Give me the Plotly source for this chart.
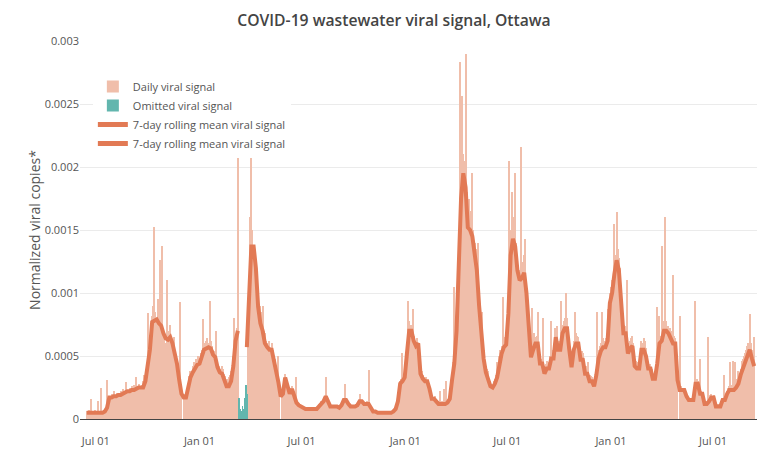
import pandas as pd
import plotly.graph_objects as go

# Units: 1e-5 normalized viral copies
UNIT = 1e-5

# Daily viral signal sampled every 2 days starting 2020-06-15 (None = omitted / missing)
daily_signal = [
    6, 5, 7, 6, 16, 6, 5, 7, 6, 5,
    14, 6, 5, 25, 6, 7, 0, 8, 31, 10,
    0, 18, 20, 17, 22, 19, 0, 21, 18, 20,
    22, 20, 24, 0, 21, 29, 23, 22, 25, 21,
    26, 24, 27, 23, 33, 25, 28, 24, 26, 27,
    30, 35, 28, 33, 84, 45, 60, 68, 82, 90,
    152, 85, 80, 95, 75, 126, 90, 137, 72, 65,
    60, 110, 70, 68, 75, 62, 58, 65, 55, 50,
    45, 40, 30, 93, 22, 0, 18, 20, 17, 24,
    28, 34, 38, 36, 42, 45, 40, 48, 46, 50,
    48, 52, 55, 79, 60, 58, 62, 64, 60, 94,
    62, 58, 55, 52, 54, 70, 45, 42, 0, 40,
    42, 40, 36, 34, 32, 30, 33, 35, 38, 40,
    50, 80, 65, 72, 210,
    None, None, None, None, None, None, None, None,
    60, 95, 160, 210, 150, 135, 130,
    125, 110, 100, 88, 90, 85, 90, 70, 68, 62,
    60, 58, 62, 57, 60, 55, 50, 48, 42, 36,
    50, 25, 0, 18, 22, 28, 36, 32, 27, 23,
    22, 25, 26, 24, 20, 16, 33, 13, 12, 11,
    11, 10, 9, 9, 8, 9, 8, 9, 8, 9,
    9, 8, 9, 8, 9, 10, 12, 13, 14, 13,
    15, 18, 33, 18, 14, 12, 11, 10, 11, 10,
    11, 10, 11, 10, 9, 10, 12, 14, 16, 28,
    16, 15, 13, 11, 10, 11, 10, 11, 10, 12,
    12, 13, 20, 15, 14, 14, 13, 12, 13, 14,
    39, 12, 10, 8, 7, 6, 7, 6, 6, 5,
    6, 5, 6, 5, 6, 5, 5, 6, 5, 6,
    6, 5, 7, 8, 9, 12, 16, 24, 30, 32,
    52, 36, 38, 45, 50, 94, 78, 72, 75, 87,
    66, 60, 62, 64, 58, 60, 40, 38, 35, 33,
    32, 33, 31, 29, 26, 22, 18, 17, 0, 18,
    15, 13, 14, 22, 13, 14, 12, 24, 13, 30,
    15, 18, 20, 28, 36, 45, 105, 60, 80, 110,
    150, 283, 200, 256, 210, 205, 290, 180, 170, 175,
    165, 160, 195, 150, 140, 135, 130, 140, 100, 90,
    80, 85, 55, 45, 42, 40, 38, 0, 30, 28,
    27, 30, 32, 35, 45, 42, 50, 55, 58, 97,
    62, 65, 68, 70, 95, 205, 150, 180, 160, 155,
    195, 140, 125, 120, 118, 216, 120, 125, 130, 143,
    110, 90, 75, 30, 55, 88, 62, 68, 65, 66,
    85, 58, 50, 48, 46, 80, 42, 44, 46, 45,
    45, 50, 78, 55, 54, 72, 70, 74, 62, 60,
    62, 94, 75, 78, 80, 100, 80, 68, 62, 55,
    46, 52, 62, 85, 68, 66, 65, 55, 52, 54,
    52, 45, 40, 42, 40, 45, 35, 34, 33, 30,
    28, 0, 40, 85, 55, 58, 60, 85, 64, 62,
    62, 64, 87, 85, 100, 105, 110, 112, 155, 130,
    164, 135, 128, 120, 105, 88, 76, 75, 74, 110,
    58, 60, 62, 64, 66, 60, 48, 46, 45, 44,
    45, 46, 62, 60, 64, 62, 56, 50, 45, 44,
    44, 40, 36, 35, 36, 42, 89, 50, 82, 66,
    137, 78, 76, 160, 78, 0, 74, 72, 70, 0,
    114, 66, 64, 55, 35, 0, 82, 26, 25, 24,
    25, 22, 20, 17, 16, 17, 16, 17, 18, 22,
    94, 32, 30, 26, 48, 22, 21, 18, 14, 13,
    14, 65, 16, 19, 20, 18, 19, 14, 12, 11,
    12, 11, 12, 11, 17, 35, 16, 20, 22, 25,
    26, 45, 27, 46, 28, 45, 30, 32, 38, 36,
    40, 46, 48, 50, 52, 55, 58, 60, 83, 60,
    55, 50, 65,
]

# Omitted viral signal
omitted_dates = ["2021-03-12", "2021-03-14", "2021-03-16", "2021-03-18",
                 "2021-03-20", "2021-03-22", "2021-03-24", "2021-03-26"]
omitted_signal = [17, 8, 6, 10, 8, 17, 27, 20]

# 7-day rolling mean sampled every 4 days starting 2020-06-15 (None = gap)
rolling_mean = [
    5, 5, 5, 5, 5,
    5, 5, 5, 6, 9,
    17, 17, 18, 18, 19,
    19, 20, 21, 22, 22,
    23, 23, 24, 25, 25,
    25, 30, 41, 55, 77,
    78, 79, 76, 74, 68,
    64, 63, 65, 60, 52,
    44, 31, 20, 17, 17,
    25, 33, 37, 40, 43,
    44, 50, 55, 56, 57,
    56, 51, 49, 41, 37,
    36, 31, 26, 26, 30,
    42, 62, 70,
    None, None, None,
    57, 90, 137, 137,
    120, 89, 76, 70, 60,
    57, 55, 55, 47, 38,
    29, 18, 20, 33, 25,
    20, 24, 18, 13, 11,
    10, 9, 8, 8, 8,
    8, 8, 8, 10, 12,
    14, 18, 13, 10, 10,
    10, 10, 9, 11, 15,
    15, 12, 10, 10, 10,
    11, 14, 14, 12, 12,
    12, 9, 6, 6, 5,
    5, 5, 5, 5, 5,
    5, 6, 8, 14, 28,
    30, 33, 52, 70, 70,
    62, 58, 60, 36, 32,
    30, 30, 24, 16, 16,
    14, 12, 12, 12, 12,
    13, 16, 31, 44, 70,
    125, 175, 195, 184, 152,
    150, 145, 129, 118, 90,
    70, 48, 37, 32, 26,
    25, 28, 33, 44, 52,
    57, 59, 84, 130, 143,
    137, 118, 110, 112, 116,
    100, 70, 49, 55, 60,
    60, 44, 44, 36, 40,
    40, 48, 48, 65, 55,
    55, 68, 72, 72, 55,
    41, 55, 60, 60, 47,
    47, 36, 36, 30, 30,
    26, 35, 48, 54, 57,
    57, 62, 92, 100, 115,
    126, 118, 95, 68, 68,
    52, 56, 58, 42, 40,
    40, 55, 55, 50, 40,
    40, 32, 32, 44, 60,
    62, 70, 70, 68, 64,
    60, 60, 31, 23, 23,
    23, 18, 15, 15, 15,
    28, 28, 20, 20, 12,
    12, 14, 17, 17, 10,
    10, 10, 15, 15, 20,
    23, 23, 23, 25, 28,
    35, 40, 45, 52, 55,
    48, 42,
]

y_tick_vals = [0, 0.0005, 0.001, 0.0015, 0.002, 0.0025, 0.003]
y_tick_text = ["0", "0.0005", "0.001", "0.0015", "0.002", "0.0025", "0.003"]

START = "2020-06-15"
daily_dates = pd.date_range(START, periods=len(daily_signal), freq="2D")
roll_dates = pd.date_range(START, periods=len(rolling_mean), freq="4D")

def scale(vals):
    return [None if v is None else v * UNIT for v in vals]

daily_y = scale(daily_signal)
roll_y = scale(rolling_mean)
gap = rolling_mean.index(None)
resume = gap
while rolling_mean[resume] is None:
    resume += 1

BAR = "#F0BEAA"
LINE = "#E27A55"
TEAL = "#62B6AE"
FONT = "Open Sans"
DAY2 = 2 * 86400000

fig = go.Figure()
fig.add_trace(go.Bar(x=daily_dates, y=daily_y, name="Daily viral signal",
                     marker=dict(color=BAR, line=dict(width=0)), width=DAY2))
fig.add_trace(go.Bar(x=pd.to_datetime(omitted_dates), y=scale(omitted_signal),
                     name="Omitted viral signal",
                     marker=dict(color=TEAL, line=dict(width=0)), width=DAY2 * 0.6))
fig.add_trace(go.Scatter(x=roll_dates[:gap], y=roll_y[:gap], mode="lines",
                         name="7-day rolling mean viral signal",
                         line=dict(color=LINE, width=4)))
fig.add_trace(go.Scatter(x=roll_dates[resume:], y=roll_y[resume:], mode="lines",
                         name="7-day rolling mean viral signal",
                         line=dict(color=LINE, width=4)))

fig.update_layout(
    width=772, height=453,
    margin=dict(l=72, r=23, t=33, b=42),
    paper_bgcolor="white", plot_bgcolor="white",
    barmode="overlay", bargap=0,
    font=dict(family=FONT, size=11, color="#555"),
    title=dict(text="COVID-19 wastewater viral signal, Ottawa",
               x=0.5, xanchor="center", y=0.985, yanchor="top",
               font=dict(family=FONT, size=15.7, color="#444", weight=600)),
    legend=dict(x=0.019, y=0.918, xanchor="left", yanchor="top",
                bgcolor="white", borderwidth=0, tracegroupgap=0,
                font=dict(family=FONT, size=11, color="#555"),
                itemsizing="constant"),
    xaxis=dict(type="date", range=["2020-06-03", "2023-09-17"],
               tick0="2020-07-01", dtick="M6", tickformat="%b %d",
               showgrid=False, ticks="outside", ticklen=12,
               tickcolor="rgba(0,0,0,0)", showline=False, zeroline=False),
    yaxis=dict(range=[0, 0.003], tickvals=y_tick_vals, ticktext=y_tick_text,
               showgrid=True, gridcolor="#ebebeb", gridwidth=1,
               zeroline=True, zerolinecolor="#444", zerolinewidth=1,
               title=dict(text="Normalized viral copies*",
                          font=dict(family=FONT, size=14, color="#555"),
                          standoff=0)),
)

fig.write_html("out.html")
